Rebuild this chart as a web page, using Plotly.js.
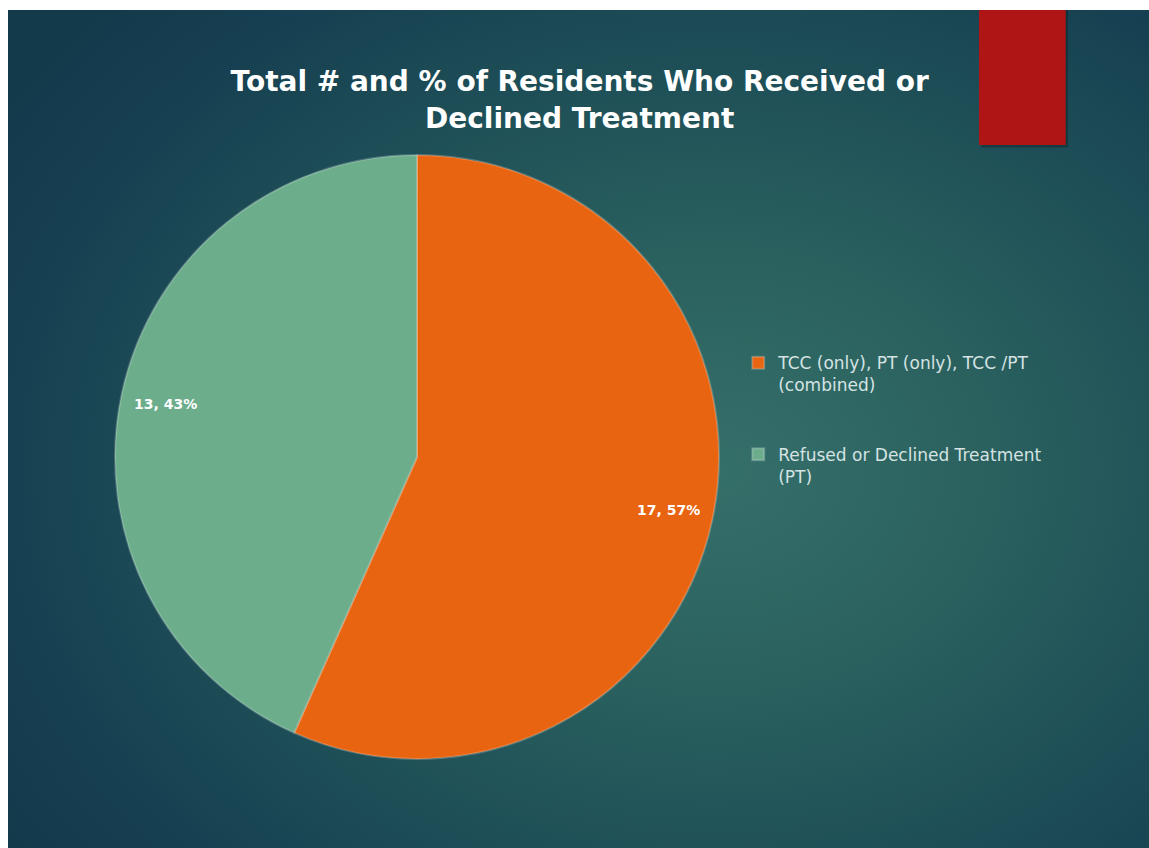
<!DOCTYPE html>
<html>
<head>
<meta charset="utf-8">
<script src="https://cdn.plot.ly/plotly-3.0.1.min.js"></script>
<style>
  html, body { margin: 0; padding: 0; background: #ffffff; width: 1149px; height: 848px; overflow: hidden; }
  #slide {
    position: absolute; left: 8px; top: 10px; width: 1141px; height: 838px;
    background: radial-gradient(ellipse 75% 80% at 62% 55%, #356f6a 0%, #2b625f 30%, #1e4f57 60%, #163f51 85%, #123a4b 100%);
  }
  #chart { position: absolute; left: 0; top: 0; width: 1141px; height: 838px; }
</style>
</head>
<body>
<div id="slide"><div id="chart"></div></div>
<script>
// ---- data ----
const categories = [
  'TCC (only), PT (only), TCC /PT<br>(combined)<br> <br> ',
  'Refused or Declined Treatment<br>(PT)<br> <br> '
];
const values = [17, 13];
const sliceColors = ['#E86410', '#6CAD8C'];
const titleText = 'Total # and % of Residents Who Received or<br>Declined Treatment';

// ---- geometry of the figure ----
const W = 1141, H = 838;
const pieDomain = { x: [0.0938, 0.6231], y: [0.1062, 0.8270] };
const labelRadiusFrac = 0.85;

const total = values.reduce((a, b) => a + b, 0);
const trace = {
  type: 'pie',
  labels: categories,
  values: values,
  sort: false,
  direction: 'clockwise',
  rotation: 0,
  marker: { colors: sliceColors, line: { color: 'rgba(255,255,255,0.22)', width: 2 } },
  textinfo: 'none',
  hoverinfo: 'label+value+percent',
  domain: pieDomain
};

// data labels placed at the slice mid-angle, near the outer edge (like the original "inside end" labels)
const cxPx = (pieDomain.x[0] + pieDomain.x[1]) / 2 * W;
const cyPx = (pieDomain.y[0] + pieDomain.y[1]) / 2 * H;
const rPx = Math.min((pieDomain.x[1] - pieDomain.x[0]) * W, (pieDomain.y[1] - pieDomain.y[0]) * H) / 2;
let cum = 0;
const annotations = values.map((v) => {
  const mid = (cum + v / 2) / total * 2 * Math.PI;
  cum += v;
  const px = cxPx + labelRadiusFrac * rPx * Math.sin(mid);
  const py = cyPx + labelRadiusFrac * rPx * Math.cos(mid);
  return {
    xref: 'paper', yref: 'paper', x: px / W, y: py / H,
    xanchor: 'center', yanchor: 'middle', showarrow: false,
    text: '<b>' + v + ', ' + Math.round(v / total * 100) + '%</b>',
    font: { family: '"DejaVu Sans", sans-serif', size: 14, color: '#ffffff' }
  };
});

const layout = {
  width: W, height: H,
  margin: { l: 0, r: 0, t: 0, b: 0 },
  paper_bgcolor: 'rgba(0,0,0,0)',
  plot_bgcolor: 'rgba(0,0,0,0)',
  title: {
    text: '<b>' + titleText + '</b>',
    font: { family: '"DejaVu Sans", sans-serif', size: 28, color: '#ffffff' },
    x: 0.501, xanchor: 'center', xref: 'paper',
    y: 0.903, yanchor: 'top', yref: 'container'
  },
  showlegend: true,
  legend: {
    x: 0.640, xanchor: 'left',
    y: 0.600, yanchor: 'top',
    valign: 'top',
    bgcolor: 'rgba(0,0,0,0)',
    font: { family: '"DejaVu Sans", sans-serif', size: 17, color: '#d5e3e3' }
  },
  annotations: annotations,
  shapes: [
    { type: 'rect', xref: 'paper', yref: 'paper', x0: 0.853, x1: 0.929, y0: 0.836, y1: 1.0,
      fillcolor: 'rgba(0,0,0,0.25)', line: { width: 0 } },
    { type: 'rect', xref: 'paper', yref: 'paper', x0: 0.851, x1: 0.927, y0: 0.839, y1: 1.0,
      fillcolor: '#B01515', line: { width: 0 } }
  ]
};

Plotly.newPlot('chart', [trace], layout, { displayModeBar: false, staticPlot: true });
</script>
</body>
</html>
